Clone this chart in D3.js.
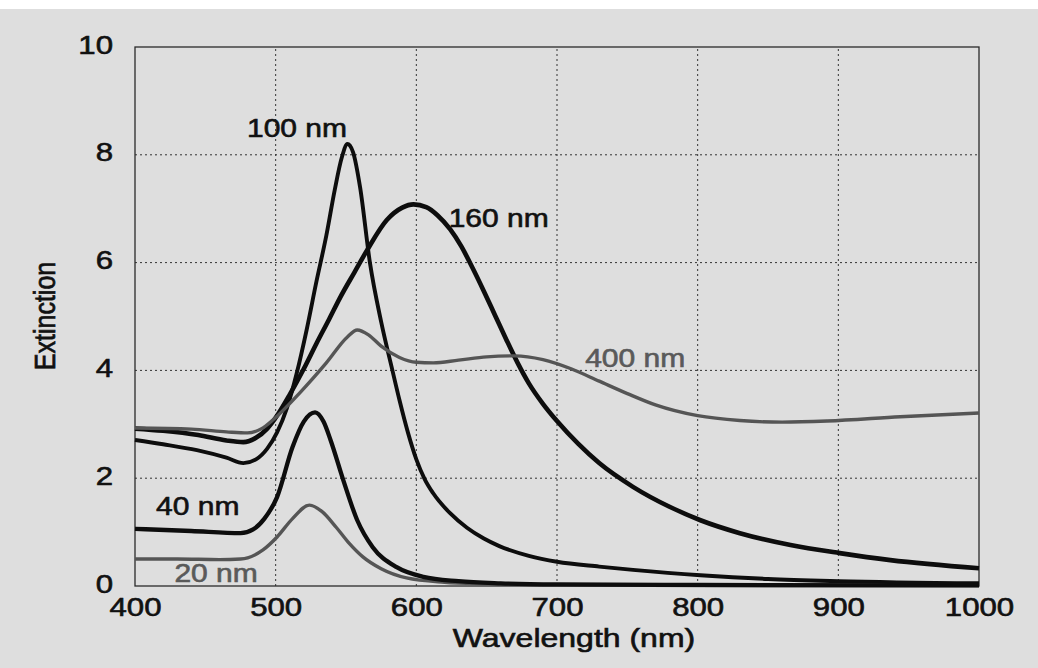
<!DOCTYPE html>
<html>
<head>
<meta charset="utf-8">
<script src="https://cdn.jsdelivr.net/npm/d3@7/dist/d3.min.js"></script>
<style>
  html, body { margin: 0; padding: 0; background: #ffffff; }
  svg { display: block; }
  text { font-family: "Liberation Sans", Arial, Helvetica, sans-serif; }
</style>
</head>
<body>
<svg id="chart" width="1038" height="668"></svg>
<script>
// ---- data ----
const xTicks = [400, 500, 600, 700, 800, 900, 1000];
const yTicks = [0, 2, 4, 6, 8, 10];
const xTitle = "Wavelength (nm)";
const yTitle = "Extinction";

const wl20  = [400, 430, 460, 475, 491, 501, 512, 524, 533, 543, 552, 562, 575, 593, 620, 650, 700, 800, 900, 1000];
const ext20 = [0.50, 0.50, 0.49, 0.50, 0.67, 0.91, 1.25, 1.50, 1.38, 1.09, 0.80, 0.54, 0.32, 0.15, 0.07, 0.04, 0.02, 0.01, 0.01, 0.01];

const wl40  = [400, 440, 475, 484, 492, 501, 512, 520, 528, 534, 539, 548, 558, 569, 586, 605, 630, 660, 700, 800, 1000];
const ext40 = [1.06, 1.02, 0.98, 1.05, 1.25, 1.65, 2.58, 3.05, 3.22, 3.05, 2.71, 1.97, 1.22, 0.72, 0.35, 0.17, 0.09, 0.05, 0.03, 0.02, 0.01];

const wl100  = [400, 420, 444, 465, 477, 486, 494, 501, 508, 515, 522, 529, 536, 542, 547, 551, 555, 560, 567, 575, 583, 588, 594, 600, 606, 612, 624, 636, 648, 659, 680, 700, 730, 754, 802, 850, 900, 1000];
const ext100 = [2.71, 2.63, 2.52, 2.38, 2.28, 2.35, 2.55, 2.85, 3.3, 3.95, 4.75, 5.65, 6.5, 7.35, 7.95, 8.2, 8.05, 7.4, 6.0, 4.9, 4.0, 3.45, 2.85, 2.35, 1.98, 1.72, 1.35, 1.08, 0.88, 0.74, 0.56, 0.45, 0.36, 0.30, 0.20, 0.13, 0.09, 0.05];

const wl160  = [400, 420, 445, 465, 477, 486, 494, 502, 510, 520, 529, 538, 546, 556, 565, 579, 590, 598, 607, 615, 624, 632, 640, 648, 656, 664, 672, 680, 690, 700, 715, 730, 754, 780, 802, 830, 866, 901, 937, 1000];
const ext160 = [2.92, 2.88, 2.80, 2.70, 2.67, 2.75, 2.92, 3.2, 3.55, 4.03, 4.5, 4.95, 5.36, 5.82, 6.23, 6.79, 7.02, 7.08, 7.03, 6.88, 6.62, 6.3, 5.9, 5.47, 5.02, 4.57, 4.14, 3.76, 3.38, 3.06, 2.64, 2.28, 1.84, 1.47, 1.22, 0.98, 0.76, 0.61, 0.48, 0.33];

const wl400  = [400, 440, 465, 480, 490, 498, 517, 536, 551, 558, 566, 575, 588, 600, 612, 630, 650, 670, 690, 710, 730, 750, 770, 800, 830, 860, 892, 944, 1000];
const ext400 = [2.93, 2.91, 2.86, 2.84, 2.92, 3.08, 3.58, 4.14, 4.62, 4.75, 4.66, 4.45, 4.24, 4.15, 4.14, 4.19, 4.25, 4.27, 4.2, 4.03, 3.8, 3.57, 3.36, 3.16, 3.07, 3.04, 3.06, 3.14, 3.21];

const seriesNames  = ["20 nm", "40 nm", "100 nm", "160 nm", "400 nm"];
const seriesX      = [wl20, wl40, wl100, wl160, wl400];
const seriesY      = [ext20, ext40, ext100, ext160, ext400];
// label anchors (data units: wavelength, extinction)
const labelWl  = [428, 415, 479.6, 623, 720];
const labelExt = [0.07, 1.32, 8.33, 6.66, 4.06];

// ---- styles ----
const seriesColor = ["#555555", "#0d0d0d", "#0d0d0d", "#0d0d0d", "#555555"];
const seriesWidth = [3.4, 4.3, 3.9, 4.6, 3.4];
const labelColor  = ["#5a5a5a", "#111111", "#111111", "#111111", "#5a5a5a"];

const svg = d3.select("#chart");
const W = 1038, H = 668;

svg.append("rect").attr("x", 0).attr("y", 0).attr("width", W).attr("height", H).attr("fill", "#dedede");
svg.append("rect").attr("x", 0).attr("y", 0).attr("width", W).attr("height", 9).attr("fill", "#ffffff");

const x = d3.scaleLinear().domain([400, 1000]).range([135, 979]);
const y = d3.scaleLinear().domain([0, 10]).range([586, 47]);

const SX = 1.2; // horizontal stretch of the printed glyphs

// gridlines
const grid = svg.append("g");
grid.selectAll("line.gx").data(xTicks.slice(1, -1)).enter().append("line")
  .attr("x1", d => x(d)).attr("x2", d => x(d))
  .attr("y1", y(0)).attr("y2", y(10))
  .attr("stroke", "#333").attr("stroke-width", 1).attr("stroke-dasharray", "2,3");
grid.selectAll("line.gy").data(yTicks.slice(1, -1)).enter().append("line")
  .attr("x1", x(400)).attr("x2", x(1000))
  .attr("y1", d => y(d)).attr("y2", d => y(d))
  .attr("stroke", "#333").attr("stroke-width", 1).attr("stroke-dasharray", "2,3");

// frame
svg.append("rect")
  .attr("x", x(400)).attr("y", y(10))
  .attr("width", x(1000) - x(400)).attr("height", y(0) - y(10))
  .attr("fill", "none").attr("stroke", "#2a2a2a").attr("stroke-width", 1.3);

function heavy(sel, color) {
  sel.attr("fill", color).attr("stroke", color).attr("stroke-width", 0.6);
}

// axes (labels only, via d3 axes)
const xAxis = svg.append("g").attr("transform", `translate(0,${y(0)})`)
  .call(d3.axisBottom(x).tickValues(xTicks).tickSize(0).tickPadding(0).tickFormat(d3.format("d")));
xAxis.select(".domain").remove();
xAxis.selectAll(".tick text")
  .attr("y", 0).attr("dy", null)
  .attr("transform", `translate(0,30) scale(${SX},1)`)
  .attr("font-size", 26)
  .style("font-family", "'Liberation Sans', Arial, sans-serif")
  .call(heavy, "#111");

const yAxis = svg.append("g").attr("transform", `translate(${x(400)},0)`)
  .call(d3.axisLeft(y).tickValues(yTicks).tickSize(0).tickPadding(0).tickFormat(d3.format("d")));
yAxis.select(".domain").remove();
yAxis.selectAll(".tick text")
  .attr("x", 0).attr("dy", null).attr("y", 0)
  .attr("text-anchor", "end")
  .attr("transform", `translate(-22,6) scale(${SX},1)`)
  .attr("font-size", 26)
  .style("font-family", "'Liberation Sans', Arial, sans-serif")
  .call(heavy, "#111");

// axis titles
svg.append("text")
  .attr("transform", `translate(${(x(400) + x(1000)) / 2 + 17},647) scale(1.28,1)`)
  .attr("text-anchor", "middle").attr("font-size", 25)
  .call(heavy, "#111")
  .text(xTitle);
svg.append("text")
  .attr("transform", `translate(55,316) scale(${SX},1) rotate(-90)`)
  .attr("text-anchor", "middle").attr("font-size", 25)
  .call(heavy, "#111")
  .text(yTitle);

// curves
const line = d3.line().curve(d3.curveMonotoneX)
  .x(d => x(d[0])).y(d => y(d[1]));

const plot = svg.append("g");
seriesNames.forEach((name, i) => {
  const pts = seriesX[i].map((w, k) => [w, seriesY[i][k]]);
  plot.append("path").datum(pts)
    .attr("d", line)
    .attr("fill", "none")
    .attr("stroke", seriesColor[i])
    .attr("stroke-width", seriesWidth[i])
    .attr("stroke-linejoin", "round")
    .attr("stroke-linecap", "butt");
});

// series labels
seriesNames.forEach((name, i) => {
  svg.append("text")
    .attr("transform", `translate(${x(labelWl[i])},${y(labelExt[i])}) scale(${SX},1)`)
    .attr("font-size", 25)
    .call(heavy, labelColor[i])
    .text(name);
});
</script>
</body>
</html>
